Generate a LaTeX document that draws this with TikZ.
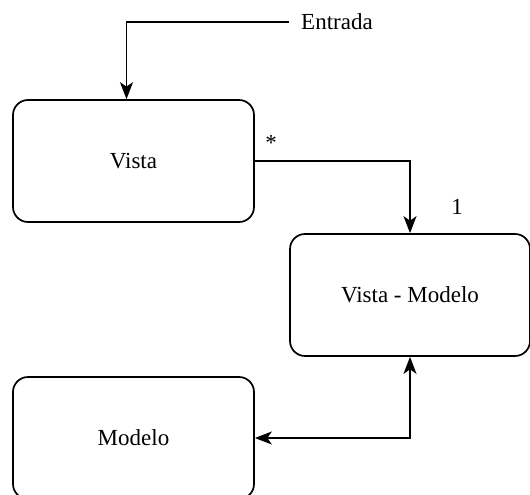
\documentclass[tikz,border=0pt]{standalone}
\usepackage{fontspec}
\setmainfont{Liberation Serif}
\usetikzlibrary{arrows.meta}
\begin{document}
\begin{tikzpicture}[x=1pt,y=-1pt,
  box/.style={draw,line width=1.7pt,rounded corners=15pt,minimum width=241pt,minimum height=122pt,font=\fontsize{23}{27}\selectfont,inner sep=0pt},
  tip/.style={Stealth[length=17pt,width=13pt,inset=4.5pt]},
  conn/.style={line width=1.7pt,-{Stealth[length=17pt,width=13pt,inset=4.5pt]}},
  lbl/.style={font=\fontsize{23}{27}\selectfont,inner sep=0pt}]
\useasboundingbox (0,0) rectangle (530,495);
\node[box] (vista) at (133.5,161) {Vista};
\node[box,minimum width=240pt] (vm) at (410,295) {Vista - Modelo};
\node[box] (modelo) at (133.5,438) {Modelo};
\node[lbl,anchor=west] (entrada) at (301,22) {Entrada};
\node[lbl] (star) at (271,143) {*};
\node[lbl] (one) at (457,207) {1};
\coordinate (vtop) at ([xshift=-7pt]vista.north);
\draw[conn] (entrada.west) ++(-12,0) coordinate (e0) -- (e0 -| vtop) -- (vtop);
\draw[conn] (vista.east) -- (vista.east -| vm.north) -- (vm.north);
\draw[line width=1.7pt,{Stealth[length=17pt,width=13pt,inset=4.5pt]}-{Stealth[length=17pt,width=13pt,inset=4.5pt]}] (modelo.east) -- (modelo.east -| vm.south) -- (vm.south);
\end{tikzpicture}
\end{document}
